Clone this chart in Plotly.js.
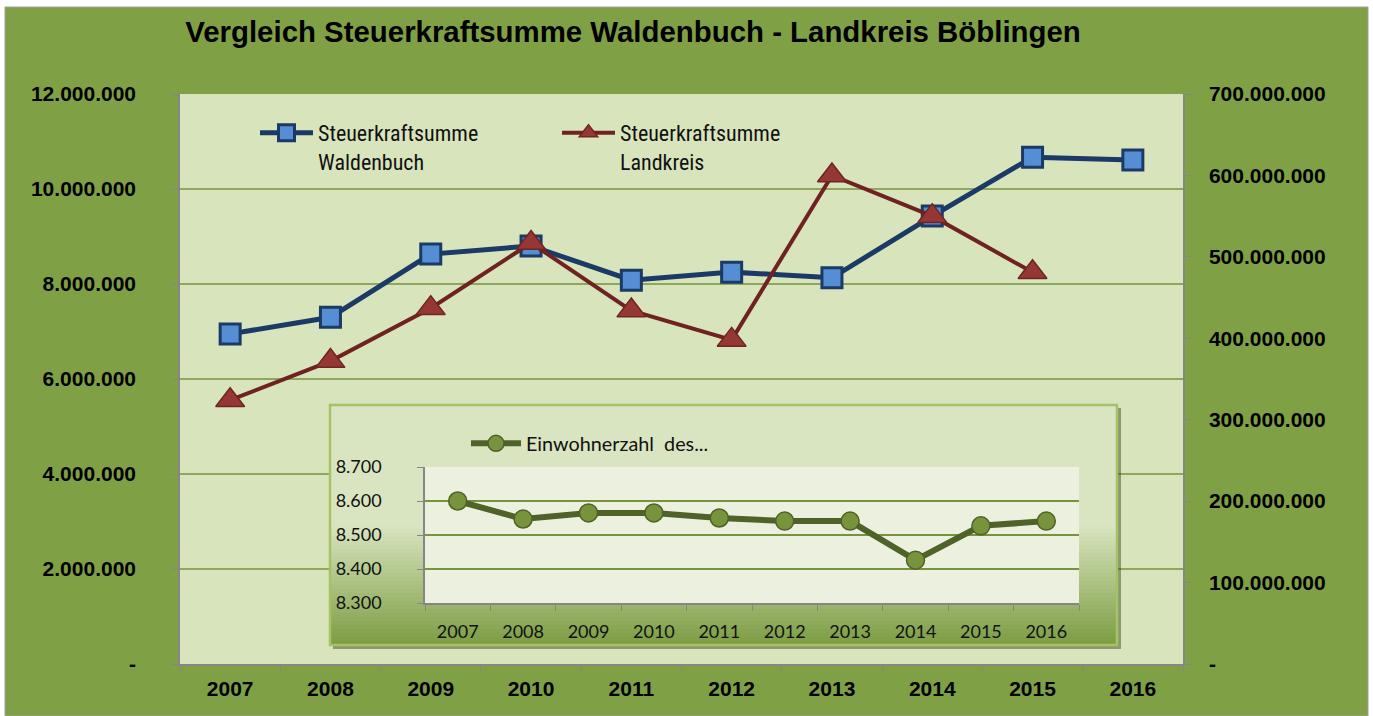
<!DOCTYPE html>
<html><head><meta charset="utf-8">
<script src="https://cdn.plot.ly/plotly-3.0.1.min.js"></script>
<style>html,body{margin:0;padding:0;background:#fff}</style>
</head><body><div id="chart" style="width:1373px;height:716px"></div>
<script>
// ---- data ----
const years = ['2007','2008','2009','2010','2011','2012','2013','2014','2015','2016'];
const steuerWaldenbuch = [6950000, 7300000, 8630000, 8800000, 8080000, 8250000, 8130000, 9430000, 10670000, 10610000];
const steuerLandkreis = [324000000, 372000000, 437000000, 517000000, 434000000, 398000000, 600000000, 550000000, 481000000, null];
const einwohner = [8600, 8547, 8565, 8565, 8550, 8541, 8541, 8426, 8527, 8541];
const leftTickVals = [0, 2000000, 4000000, 6000000, 8000000, 10000000, 12000000];
const leftTickText = ['-', '2.000.000', '4.000.000', '6.000.000', '8.000.000', '10.000.000', '12.000.000'];
const rightTickVals = [0, 100000000, 200000000, 300000000, 400000000, 500000000, 600000000, 700000000];
const rightTickText = ['-', '100.000.000', '200.000.000', '300.000.000', '400.000.000', '500.000.000', '600.000.000', '700.000.000'];
const insetTickVals = [8300, 8400, 8500, 8600, 8700];
const insetTickText = ['8.300', '8.400', '8.500', '8.600', '8.700'];
const titleText = 'Vergleich Steuerkraftsumme Waldenbuch - Landkreis Böblingen';
const nameWaldenbuch = 'Steuerkraftsumme<br>Waldenbuch';
const nameLandkreis = 'Steuerkraftsumme<br>Landkreis';
const nameEinwohner = 'Einwohnerzahl  des...';

// ---- layout helpers (pixel -> paper, plot area 180..1183 x 94..664) ----
const L = 180, R = 1183, T = 94, B = 664;
const px = x => (x - L) / (R - L);
const py = y => (B - y) / (B - T);

const shapes = [];
// outer green chart area
shapes.push({type:'rect', xref:'paper', yref:'paper', layer:'below',
  x0: px(5), x1: px(1368), y0: py(716), y1: py(7),
  fillcolor:'#80a046', line:{color:'#a0a0a0', width:1}});
// main plot background
shapes.push({type:'rect', xref:'paper', yref:'paper', layer:'below',
  x0: 0, x1: 1, y0: 0, y1: 1, fillcolor:'#d8e4bc', line:{width:0}});
// main gridlines
leftTickVals.slice(1, -1).forEach(v => shapes.push({type:'line', xref:'paper', yref:'y', layer:'below',
  x0: 0, x1: 1, y0: v, y1: v, line:{color:'#77933c', width:1.5}}));
// inset shadow
shapes.push({type:'rect', xref:'paper', yref:'paper', layer:'below',
  x0: px(333), x1: px(1121), y0: py(649), y1: py(408), fillcolor:'rgba(50,60,20,0.45)', line:{width:0}});
// inset gradient box
const gTop = 405, gStart = 525, gBot = 645;
shapes.push({type:'rect', xref:'paper', yref:'paper', layer:'below',
  x0: px(330), x1: px(1117), y0: py(gStart), y1: py(gTop), fillcolor:'#d9e5c0', line:{width:0}});
const c0 = [217, 229, 192], c1 = [124, 156, 66];
const N = 30;
for (let i = 0; i < N; i++) {
  const t = (i + 0.5) / N;
  const c = c0.map((v, k) => Math.round(v + (c1[k] - v) * t));
  const y0 = gStart + (gBot - gStart) * i / N, y1 = gStart + (gBot - gStart) * (i + 1) / N;
  shapes.push({type:'rect', xref:'paper', yref:'paper', layer:'below',
    x0: px(330), x1: px(1117), y0: py(y1 + 0.5), y1: py(y0),
    fillcolor:`rgb(${c[0]},${c[1]},${c[2]})`, line:{width:0}});
}
shapes.push({type:'rect', xref:'paper', yref:'paper', layer:'below',
  x0: px(330), x1: px(1117), y0: py(gBot), y1: py(gTop), fillcolor:'rgba(0,0,0,0)', line:{color:'#a4c463', width:2.5}});
// inset plot background
const iL = 425, iR = 1079, iT = 467, iB = 603;
shapes.push({type:'rect', xref:'paper', yref:'paper', layer:'below',
  x0: px(iL), x1: px(iR), y0: py(iB), y1: py(iT), fillcolor:'#ecf1df', line:{width:0}});

const boldFont = {family:'Liberation Sans, Arial, sans-serif', size:21, color:'#000'};
const narrowFont = {family:'Liberation Sans Narrow, Arial Narrow, Roboto Condensed, sans-serif', size:22, color:'#111'};
const insetFont = {family:'Lato, Open Sans, sans-serif', size:18, color:'#111'};
const insetLegendFont = {family:'Lato, Open Sans, sans-serif', size:19.8, color:'#111'};

const traces = [
  {x: years, y: steuerWaldenbuch, name: nameWaldenbuch, type:'scatter', mode:'lines+markers',
   xaxis:'x', yaxis:'y', legend:'legend',
   line:{color:'#1b3a66', width:5},
   marker:{symbol:'square', size:20, color:'#558ed5', line:{color:'#1b3a66', width:3}}},
  {x: years, y: steuerLandkreis, name: nameLandkreis, type:'scatter', mode:'lines+markers',
   xaxis:'x', yaxis:'y2', legend:'legend',
   line:{color:'#6e2222', width:4},
   marker:{symbol:'triangle-up', size:25, color:'#953735', line:{color:'#702424', width:1.5}}},
  {x: years, y: einwohner, name: nameEinwohner, type:'scatter', mode:'lines+markers',
   xaxis:'x3', yaxis:'y3', legend:'legend2',
   line:{color:'#4f6228', width:6},
   marker:{symbol:'circle', size:18, color:'#77933c', line:{color:'#4f6228', width:1.5}}}
];

const layout = {
  width: 1373, height: 716,
  margin: {l: L, r: 1373 - R, t: T, b: 716 - B, pad: 0},
  paper_bgcolor: '#ffffff', plot_bgcolor: 'rgba(0,0,0,0)',
  showlegend: true,
  title: {text: '<b>' + titleText + '</b>', x: 633 / 1373, xref:'container', xanchor:'center',
          y: 1 - 32 / 716, yref:'container', yanchor:'middle',
          font:{family:'Liberation Sans, Arial, sans-serif', size:29.4, color:'#000'}},
  xaxis: {type:'category', domain:[0, 1], range:[-0.5, 9.5], anchor:'y',
    showgrid:false, zeroline:false, showline:true, linecolor:'#868686', linewidth:1.5,
    ticks:'outside', tickson:'boundaries', ticklen:6, tickcolor:'#868686', tickwidth:1,
    ticklabelstandoff: 5,
    tickfont: boldFont, tickprefix:'<b>', ticksuffix:'</b>'},
  yaxis: {domain:[0, 1], range:[0, 12000000], anchor:'x',
    showgrid:false, zeroline:false, showline:true, linecolor:'#868686', linewidth:1.5,
    ticks:'outside', ticklen:6, tickcolor:'#868686',
    tickvals: leftTickVals, ticktext: leftTickText.map(s => '<b>' + s + '</b>'),
    ticklabelstandoff: 32, tickfont: boldFont},
  yaxis2: {overlaying:'y', side:'right', range:[0, 700000000], anchor:'x',
    showgrid:false, zeroline:false, showline:true, linecolor:'#868686', linewidth:1.5,
    ticks:'outside', ticklen:6, tickcolor:'#868686',
    tickvals: rightTickVals, ticktext: rightTickText.map(s => '<b>' + s + '</b>'),
    ticklabelstandoff: 14, tickfont: boldFont},
  xaxis3: {type:'category', domain:[px(iL), px(iR)], range:[-0.5, 9.5], anchor:'y3',
    showgrid:false, zeroline:false, showline:true, linecolor:'#868686', linewidth:1.5,
    ticks:'outside', tickson:'boundaries', ticklen:6, tickcolor:'#868686',
    ticklabelstandoff: 12, tickfont: insetFont},
  yaxis3: {domain:[py(iB), py(iT)], range:[8300, 8700], anchor:'x3',
    showgrid:true, gridcolor:'#77933c', gridwidth:1.5, zeroline:false,
    showline:true, linecolor:'#868686', linewidth:1.5,
    ticks:'outside', ticklen:6, tickcolor:'#868686',
    tickvals: insetTickVals, ticktext: insetTickText,
    ticklabelstandoff: 32, tickfont: insetFont},
  legend: {orientation:'h', x: px(255), y: py(112), xanchor:'left', yanchor:'top',
    bgcolor:'rgba(0,0,0,0)', font: narrowFont, valign:'top', itemwidth: 53,
    entrywidth: 234, entrywidthmode:'pixels', traceorder:'normal'},
  legend2: {orientation:'h', x: px(466), y: py(424), xanchor:'left', yanchor:'top',
    bgcolor:'rgba(0,0,0,0)', font: insetLegendFont, itemwidth: 50},
  shapes: shapes
};

Plotly.newPlot('chart', traces, layout, {displayModeBar:false, responsive:false});
</script>
</body></html>
